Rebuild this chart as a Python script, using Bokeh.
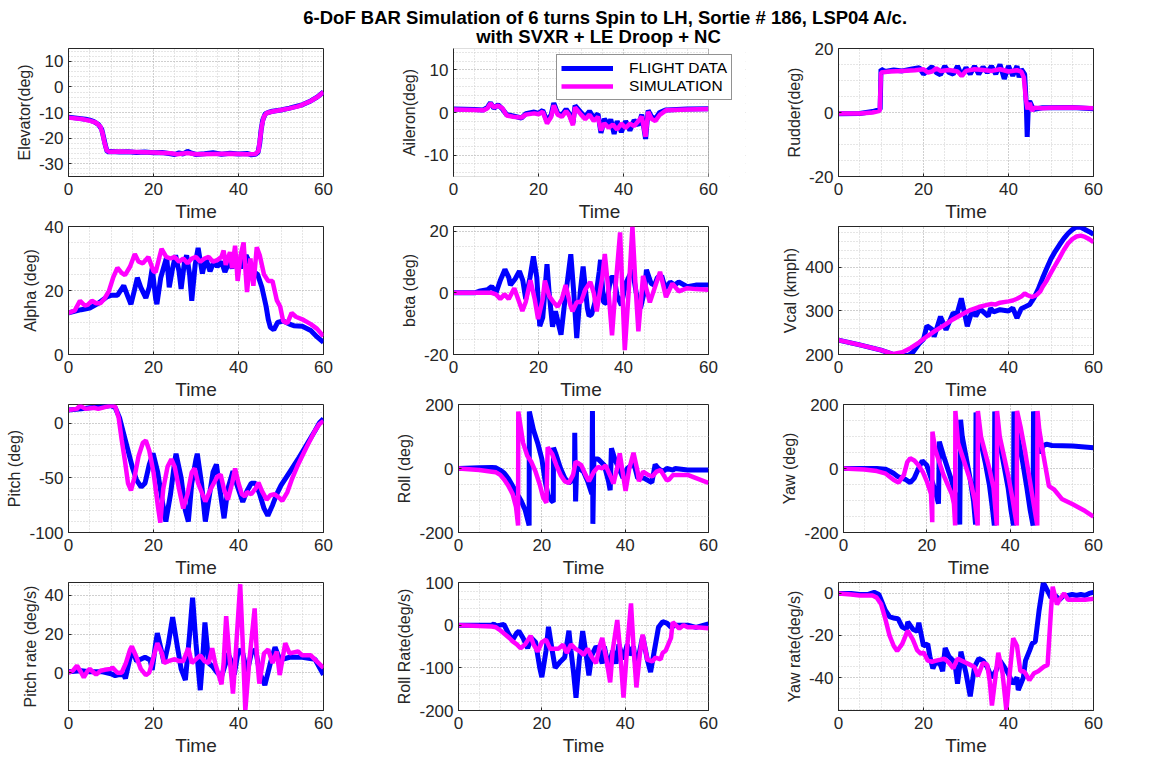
from bokeh.plotting import figure
from bokeh.layouts import column, row
from bokeh.models import (Range1d, SingleIntervalTicker, Legend, LegendItem, Label,
                          BoxAnnotation, PrintfTickFormatter)
from bokeh.embed import file_html
from bokeh.resources import INLINE

TITLE_1 = "6-DoF BAR Simulation of 6 turns Spin to LH, Sortie # 186, LSP04 A/c."
TITLE_2 = "with SVXR + LE Droop + NC"
SERIES_NAMES = ["FLIGHT DATA", "SIMULATION"]
X_LABEL = "Time"

# (time, value) pairs, flight data (blue) and simulation (magenta)
ELEV_FD = [(0,-11.8),(2,-12.2),(4,-12.6),(5,-13),(6,-13.6),(7,-14.6),(7.8,-16.5),(8.3,-20),(8.7,-23),(9.1,-25.3),(10,-25.2),(12,-25.4),(14,-25.3),(16,-25.6),(18,-25.4),(20,-25.7),(22,-25.6),(24,-26.1),(25,-26.4),(26,-25.8),(27,-26.2),(28,-25.2),(29,-25.9),(30,-26.4),(32,-26.1),(34,-25.7),(36,-26.3),(38,-25.9),(40,-26.2),(42,-26.0),(43,-26.5),(44,-26.3),(44.6,-25.5),(45.0,-22),(45.3,-17),(45.7,-13),(46.3,-10.5),(47,-10),(48,-9.5),(50,-9),(52,-8.3),(54,-7.4),(55,-7),(57,-5.5),(58.5,-4),(60,-2)]
ELEV_SIM = [(0,-12),(3,-12.5),(5,-13.2),(6.5,-14),(7.5,-15.5),(8,-18),(8.5,-22),(9,-24.8),(9.5,-25.3),(12,-25.2),(16,-25.4),(20,-25.6),(24,-25.9),(25.5,-26.3),(28,-25.8),(30,-26.3),(34,-26.2),(38,-26.1),(42,-26.3),(44,-26.2),(44.7,-25),(45.1,-20),(45.5,-15),(46,-11.5),(46.6,-10.2),(48,-9.6),(50,-9),(52,-8.4),(54,-7.6),(55,-7),(57,-5.5),(58.5,-4),(60,-2)]

AIL_FD = [(0,0.8),(5,0.7),(7,0.6),(8,1.2),(8.7,2.3),(9.5,1.0),(10.5,1.8),(11.5,0.8),(12.5,-0.5),(14,-0.8),(16,-1.3),(17,-0.3),(19,0.1),(20,-0.2),(21,0.5),(22,-2.0),(23,-0.5),(23.6,2.2),(24.5,-0.2),(25.5,-0.6),(26.5,0.8),(27.2,-0.2),(28.1,-2.5),(28.6,1.6),(30,0.0),(31,-1.0),(32,0.3),(33,-1.2),(34,-0.3),(34.7,-4.8),(35.5,-1.5),(36.5,-3.0),(37,-1.6),(37.8,-5.0),(38.5,-2.0),(39.5,-4.6),(40.5,-2.0),(41.5,-4.2),(42.5,-1.8),(43.5,-3.0),(44.3,-0.5),(45.2,-6.2),(45.8,0.5),(46.6,-1.0),(47.5,-1.5),(48.5,0.0),(50,0.6),(55,0.8),(60,0.9)]
AIL_SIM = [(0,0.7),(5,0.6),(7,0.5),(8,1.0),(8.7,2.1),(9.5,1.2),(10.5,1.6),(11.5,1.0),(12.5,-0.7),(14,-1.0),(16,-1.2),(17,-0.5),(19,-0.2),(20,-0.4),(21,0.2),(22,-2.6),(23,-1.0),(23.6,1.7),(24.5,-0.5),(25.5,-1.0),(26.5,0.3),(27.2,-0.6),(28.1,-3.0),(28.6,1.2),(30,-0.5),(31,-1.6),(32,-0.5),(33,-2.0),(34,-1.0),(34.7,-4.2),(35.5,-2.5),(36.5,-3.6),(37.5,-2.8),(38.5,-4.0),(39.5,-2.6),(40.5,-3.6),(41.5,-2.6),(42.5,-3.2),(43.5,-2.0),(44.3,-1.0),(45.2,-5.7),(45.8,0.2),(46.6,-1.5),(47.5,-2.0),(48.5,-0.6),(50,0.5),(55,0.7),(60,0.8)]

RUD_FD = [(0,-0.4),(5,-0.3),(8,0.3),(9.8,1.0),(10.0,13.5),(11,12.8),(13,13.3),(15,13.0),(17,13.5),(19,14.0),(20,12.0),(22,14.3),(23,12.5),(24,11.8),(25,14.5),(26,12.5),(27,12.0),(28,14.5),(29,11.5),(30,14.0),(31,12.0),(32,14.5),(33,12.0),(34,14.2),(35,12.5),(36,14.5),(37,12.0),(38,15.0),(39,10.5),(40,14.5),(41,11.5),(42,14.5),(42.5,11.0),(43,13.5),(43.8,12.0),(44.2,2.0),(44.4,-7.6),(44.7,3.0),(45.0,3.5),(45.5,2.0),(46,1.0),(48,1.5),(55,1.6),(60,1.2)]
RUD_SIM = [(0,-0.3),(5,-0.3),(8,0.0),(9.7,0.5),(10.0,12.5),(12,12.8),(15,13.0),(18,13.2),(20,13.5),(21,12.5),(22,12.8),(23,13.8),(24,13.0),(26,13.3),(28,12.8),(29,11.4),(30,13.0),(32,13.5),(34,13.3),(36,13.0),(38,13.5),(40,12.8),(42,13.2),(43,12.8),(43.6,11.0),(44.1,4.0),(44.5,1.0),(45,3.0),(45.5,0.5),(46,1.5),(48,1.3),(50,1.5),(55,1.6),(60,1.3)]

ALPHA_FD = [(0,13),(3,14),(5,14.5),(7,16),(9,18),(10,18.5),(11.5,18.5),(13,21.5),(14,18),(14.7,15.7),(15.5,20),(16.2,24),(17,21),(18.2,17.7),(19,21),(19.7,27),(20.5,17.5),(20.8,15.7),(21.7,24),(23.1,30.5),(23.7,21),(24.5,27),(25.2,31),(26,26),(26.5,20.5),(27.3,29),(27.8,31),(28.5,25),(29,16.8),(29.8,28),(30.5,33.3),(31.5,25.3),(32.3,30),(33.3,26),(34.2,29),(35,27.5),(36,29),(36.8,25.8),(37.8,29),(38.5,27),(39.5,30),(40.5,27),(41.8,31),(42.5,29),(43.5,26),(44.5,25),(45.5,21),(46.5,15),(47,11),(47.5,8.5),(48.3,7.7),(49.2,10),(50.5,10.5),(52,9.5),(53,9),(55,8.8),(57,7.5),(58.5,5.5),(60,3.8)]
ALPHA_SIM = [(0,13),(1.5,13.8),(2.7,16.8),(3.8,15.3),(4.5,15.5),(5.5,16.8),(6.5,16.0),(7.5,16.0),(8.5,17.5),(9.5,19.8),(10.5,24),(11.5,27.1),(12.5,25.5),(13.3,24.8),(14.5,27.5),(15.6,31.4),(16.5,29),(17.5,28.5),(18.8,30.5),(20,26),(20.5,25.7),(21.5,31),(21.9,33),(23,30.5),(24,30),(25,30.5),(26,29),(27,30),(28,28.5),(29,30),(30,30.5),(31,29),(32,30),(33,30.5),(34,29),(35,29.5),(36,30.5),(36.5,32.5),(37,28),(38,32),(38.5,27),(39.2,34),(39.8,23),(40.5,31),(41.2,35),(42,19.5),(42.8,30),(43.5,21.5),(44.3,33.5),(45,31),(46,25),(47,23),(48,23),(49,17),(49.8,15),(50.5,10.5),(51.5,9.8),(52.5,13),(53.5,11.8),(55,11),(57,9.5),(58.5,8),(60,5.7)]

BETA_FD = [(0,0),(5,0),(6,0.5),(8,1),(9,2.1),(10,0),(11,4),(12.1,7.6),(13,5),(13.4,2.5),(14.5,4.5),(15.5,7),(16.3,4),(17,-2),(18,5),(18.8,11.8),(19.6,5),(20.3,-10.8),(21,-8),(22,9.3),(22.5,0),(23.3,-11),(24,-6),(25.3,-13.6),(26,-5),(27.6,12.5),(28.3,0),(29,-14.7),(29.8,0),(30.5,8.5),(31.5,-5),(31.9,-7.5),(32.5,-7),(33.3,-3),(34.3,7),(34.6,10.7),(35.3,-3),(36,-3.5),(37,5),(37.8,5),(38.5,-1),(39.5,-4),(40.5,3),(42.1,7.5),(43,0),(44,-5),(45,1),(45.4,7.5),(46.5,3),(47.3,2.5),(48,5),(49,5.5),(49.8,1.5),(51,3.5),(52,2.5),(53,3.5),(55,2),(57,2.5),(60,2.5)]
BETA_SIM = [(0,0),(9,0),(10,-0.5),(11,-2),(12,-0.5),(13,-2),(14.3,1.5),(16.2,-5.9),(17,-3),(18.1,4.1),(19.1,-2),(19.9,-8.5),(21,-2),(21.5,4),(22.5,-1),(23.5,-3),(24.5,-4.5),(25.5,-2),(26.4,2.5),(27.5,-4),(28,-6),(29,-3),(30,-3),(31,1),(32.2,3.5),(33,0),(33.7,-6),(35,5),(35.6,12.6),(36.5,0),(37.3,-13.8),(38.2,3),(39.2,19.6),(39.75,0),(40.3,-18.6),(41.2,0),(42.1,21.5),(42.8,3),(43.5,-12.5),(44.6,5.5),(46.2,-3.1),(48.6,6.8),(50,-1.4),(51.5,3),(53,0.5),(55,1.5),(57,1.2),(60,1)]

VCAL_FD = [(0,233),(5,222),(10,210),(13,200),(15,199),(16.5,198),(17.5,205),(19,225),(20,235),(20.8,266),(22,258),(22.5,241),(24,287),(25.3,257),(27,296),(27.8,290),(28.9,329),(30.3,265),(31.5,303),(32.3,288),(33.3,305),(35.2,288),(35.8,306),(36.5,298),(38,303),(40,300),(41,307),(42,284),(43,305),(44,310),(45,315),(46,330),(47,350),(48,375),(49,398),(50,420),(51,437),(52,452),(53,466),(54,478),(55,487),(56,493),(57,492),(58,487),(59,482),(60,476)]
VCAL_SIM = [(0,233),(5,222),(10,210),(12.9,201),(15,205),(17,215),(19,228),(21,243),(23,256),(25,268),(27,281),(29,292),(31,302),(33,309),(35,314),(36,316),(37,315),(38,319),(40,322),(41,324),(42,328),(43,333),(43.8,340),(44.5,336),(45.5,332),(46.5,336),(47.5,345),(48,355),(49,370),(50,388),(51,405),(52,422),(53,440),(54,455),(55,465),(56,471),(57,473),(58,470),(59,465),(60,458)]

PITCH_FD = [(0,12),(3,13),(5,14),(8,15),(10,16),(11,14),(12,5),(13,-10),(14,-25),(15,-40),(16,-52),(17.1,-58.5),(18,-55),(19,-38),(19.9,-27.7),(21,-45),(22,-70),(22.9,-90),(24,-65),(25,-35),(25.3,-28),(26.5,-50),(27.5,-80),(28.2,-90),(29,-55),(30,-33),(30.3,-28),(31.3,-55),(32.2,-90),(33,-70),(34,-45),(34.8,-37.8),(35.6,-60),(36.6,-87),(37.5,-60),(38.7,-44),(39.5,-55),(41,-72),(42,-62),(43,-55),(44,-55),(45,-65),(46,-78),(46.9,-84.6),(48,-75),(49,-65),(50,-57),(52,-45),(54,-33),(56,-20),(58,-7),(59,0),(60,4)]
PITCH_SIM = [(0,12),(2,13),(2.7,16),(4,13),(6,14),(7,13),(9,15),(10,16),(11,15),(11.8,5),(12.5,-15),(13.3,-35),(14,-55),(14.7,-61.5),(15.5,-50),(16.5,-30),(17.5,-18),(18.2,-16),(19,-25),(20,-45),(21,-75),(21.6,-91),(22.3,-60),(23.3,-40),(24.2,-33),(25,-40),(26,-60),(27,-78),(28,-65),(29,-45),(29.7,-41.5),(30.5,-55),(32.2,-71.7),(33.5,-60),(35,-49),(35.8,-47),(36.7,-62),(37.5,-70),(38.5,-55),(39.2,-41.5),(40,-55),(40.8,-65),(41.5,-67),(42,-63),(43,-65),(44,-60),(44.7,-54.5),(45.5,-62),(46.6,-70),(47.5,-66),(48.5,-65),(49.5,-68),(50.3,-71),(51.5,-63),(52.5,-52),(54,-38),(56,-22),(58,-7),(59,-1),(60,2)]

ROLL_FD = [(0,0),(5,2),(8,3),(9,2),(10,-5),(11,-15),(12,-32),(13,-55),(14,-78),(15,-100),(16,-130),(16.95,-178),(17.0,178),(18,120),(19,80),(20,30),(20.8,-40),(21.5,-84),(22.3,-100),(22.75,-105),(22.8,65),(23.5,40),(24.5,0),(25.5,-30),(26.5,-45),(27.5,-35),(27.85,-20),(27.9,112),(28.1,-103),(28.4,20),(29,0),(30,-10),(31,-40),(32,-80),(32.15,180),(32.25,-173),(32.5,30),(33.5,30),(35,10),(36,-40),(36.4,-68),(36.7,63),(37.5,30),(38.5,0),(39.5,-30),(40.5,0),(41.5,10),(42,20),(43,-30),(44.5,-30),(46.4,-44),(47.2,12.6),(48,0),(49,-10),(50,0),(51.5,-5),(52,0),(55,-5),(60,-5)]
ROLL_SIM = [(0,0),(5,-5),(8,-10),(9,-12),(10,-20),(11,-35),(12,-55),(13,-80),(13.8,-120),(14.3,-178),(14.35,178),(15.5,80),(16.5,40),(17.5,20),(18.5,-10),(19.5,-50),(20.3,-90),(21.1,-107),(21.4,66),(22.5,45),(23.5,10),(24.5,-20),(25.5,-40),(26.5,-45),(27.5,-20),(28.1,21),(29.5,10),(30.5,-20),(31.3,-40),(32.5,-10),(33.5,5),(34.5,0),(35.3,10),(36.5,-25),(37.2,-47),(38.3,15),(38.7,47),(39.5,-20),(40.1,-70),(41,0),(42,49),(43,-10),(43.3,-40),(44.3,-10),(45.5,-20),(46.5,-25),(47.5,-10),(48.5,-5),(50,-37),(50.5,-35),(51.5,-20),(52.5,-20),(55,-20),(57,-30),(60,-45)]

YAW_FD = [(0,0),(5,0),(8,0),(10,-2),(11,-8),(12,-15),(13,-25),(14,-30),(15,-35),(16,-44),(17,-30),(18,0),(18.9,24),(20,10),(21,-30),(22,-70),(22.8,-110),(23.0,84),(24,40),(25,0),(26,-40),(27,-90),(27.5,-130),(27.9,-175),(28.1,152),(28.5,100),(29.5,30),(30.5,-40),(31.2,-100),(31.7,-175),(31.8,175),(33,80),(34,20),(35,-50),(35.7,-120),(36.2,-178),(36.3,178),(37.5,80),(38.5,10),(39.5,-60),(40.2,-130),(40.8,-178),(40.9,178),(42,90),(43,20),(44,-60),(44.8,-130),(45.5,-178),(45.6,178),(46.5,130),(47.3,47),(47.8,70),(48.7,76),(50,72),(55,70),(60,65)]
YAW_SIM = [(0,0),(5,-3),(8,-8),(10,-15),(11,-25),(12,-35),(13.2,-44),(14.5,-20),(15.3,20),(16,32),(17,25),(18,10),(19,-10),(20,-40),(21,-79),(21.3,-168),(21.35,115),(22,60),(23,20),(24,-20),(25,-50),(26,-80),(26.5,-110),(26.8,-178),(26.85,180),(27.5,80),(28.5,40),(29.5,0),(30.5,-40),(31.5,-100),(32.2,-178),(32.25,180),(33,100),(34,50),(35,0),(36,-60),(36.8,-178),(36.85,180),(37.5,100),(38.5,40),(39.5,-20),(40.5,-90),(41.6,-178),(41.65,180),(42.5,130),(43.5,60),(44.5,-20),(45.5,-100),(46.5,-178),(46.55,180),(47,120),(48,40),(49.3,-55),(50.5,-65),(52.4,-95),(55,-112),(58,-133),(60,-150)]

PRATE_FD = [(0,0.5),(3,1),(5,0.5),(8,0.5),(10,-0.5),(11,-1.5),(12,-1),(13,-1),(13.4,-3),(14.5,8),(15,12),(16,6),(17,7),(18,8),(19.2,6.6),(19.7,1.4),(20.5,15),(20.9,20.5),(22,10),(22.5,5),(23.5,15),(24.5,28.7),(25.5,15),(26.5,2),(27.5,-3.8),(28.5,20),(29.2,38.8),(30,15),(31,-9),(31.5,5),(32.1,26),(33,5),(34,3),(35,0),(36,-2),(37,5),(37.5,10),(38.5,5),(39,-1),(40,12),(41,10),(42,0),(43,10),(44,12),(45,0),(46.2,-6.4),(47.5,5),(48.6,13.2),(49.5,8),(50.5,7),(52,8),(55,8),(58,7),(60,-1)]
PRATE_SIM = [(0,0),(1,1),(2,3.7),(3,0),(3.6,-2.4),(4.5,1),(5,2),(6,0),(6.5,-1),(7.5,1),(8.5,1.5),(10,2),(10.3,2.8),(11.5,0),(12.5,0),(13.5,5),(14.5,12),(14.9,13.6),(16,8),(17,2),(18.2,-1.2),(19,0),(20,8),(20.9,15.3),(22,10),(22.5,5),(23.5,6),(25,7),(26,6),(27,6),(28.2,12.7),(29,5),(30,7),(31,9),(32,6),(33,5),(33.8,12.7),(34.5,5),(36,-6),(36.5,5),(37.1,29.2),(37.8,10),(38.7,-10.8),(39.2,5),(40.4,45.7),(41,15),(41.6,-19.5),(42.5,5),(43.8,33.2),(44.3,10),(44.9,-5.6),(46,10),(47,12),(48,5),(49,11),(49.7,-1.2),(51,15.3),(52,10),(54,11),(55,9),(57,9),(60,2.5)]

RRATE_FD = [(0,0),(5,0),(8,0),(8.5,3),(9,-2),(10,0),(10.9,2),(12,-20),(13,-35),(14,-18),(14.5,-14),(15.5,-30),(16.6,-54),(17.5,-30),(18.5,-40),(19.5,-100),(20,-122),(21,-60),(21.6,-4),(22.5,-60),(23.2,-100),(24.5,-85),(25.5,-75),(26.5,-13),(27,-60),(27.6,-110),(28.2,-170),(29,-80),(29.8,-14),(30.5,-60),(31.3,-118),(32,-70),(33,-50),(33.5,-55),(34.5,-90),(35,-50),(36,-100),(37,-60),(37.8,-90),(38.5,-45),(39.5,-80),(40.5,-45),(41,-70),(42,-50),(42.7,-106),(43.5,-60),(44.2,-26),(45.3,-80),(46.1,-110),(47,-60),(48,-5),(49,8),(50,5),(51,-5),(52,0),(53,0),(55,0),(57,-5),(60,3)]
RRATE_SIM = [(0,0),(5,-2),(8,-3),(9,-5),(10,-12),(11,-20),(12.2,-30),(13,-38),(14,-45),(14.9,-54),(16,-45),(17.3,-25),(18,-45),(19,-62),(20,-40),(21,-34),(22,-55),(23,-55),(24,-55),(25.1,-46),(26,-65),(27,-45),(28,-55),(29.2,-62),(30,-70),(31,-55),(32,-75),(33,-89),(34,-45),(34.5,-30),(35.5,-80),(36.4,-134),(37,-60),(38.1,12),(38.7,-50),(39.6,-170),(40.5,-50),(41.4,51),(42,-50),(42.7,-146),(43.5,-70),(44.2,-22),(45.3,-81),(46.5,-85),(47.3,-76),(48.5,-80),(49,-65),(49.7,-60),(51,-30),(51.4,7),(53,-8),(54,0),(55,-5),(57,-5),(60,-7)]

YRATE_FD = [(0,0),(3,0),(5,-0.5),(7,-0.5),(8.4,0.5),(9.5,-0.5),(10,-3),(11,-8),(12,-11),(12.9,-11.7),(14,-12),(15,-16),(16,-17),(16.3,-13.6),(17.5,-17),(18.5,-18),(18.9,-14),(20,-25),(21,-24),(21.5,-30),(22.2,-35.7),(23,-32),(24,-34),(24.5,-37),(25.1,-26),(26,-30),(27,-32),(27.5,-35),(28,-42.9),(28.5,-35),(28.8,-27.7),(30,-38),(31,-49),(32,-35),(33,-31),(34,-32),(35,-35),(36,-40),(37,-37),(38,-32),(39,-35),(39.9,-38),(41,-43),(42,-40),(42.3,-46),(43.5,-40),(44,-32),(45,-27),(45.6,-23.7),(46.3,-23),(47.2,-8),(48.2,5.1),(49.5,0),(50,-2),(51,-1),(52,-3),(53,-1),(54,-1),(55,-0.5),(56,-1),(57,-0.5),(58,-1),(59,0),(60,0.5)]
YRATE_SIM = [(0,0),(3,-0.5),(5,-1),(8,-1),(9,-2),(10,-5),(11,-12),(12,-20),(13,-25),(13.8,-27.4),(15,-24),(16,-19),(16.3,-17.8),(17.5,-22),(18.5,-27),(19.4,-28.8),(20,-28),(21,-32),(22,-32.5),(23,-32),(24,-31.5),(24.9,-31),(26,-33),(27,-35.7),(28,-31),(29,-32),(30,-33),(31,-34),(32,-35),(32.8,-39.4),(34,-33),(35,-34),(35.6,-42),(36.1,-53.3),(36.8,-42),(37.6,-28.2),(38.6,-38),(39.5,-55.7),(40.2,-40),(41.1,-21.3),(42,-25),(42.8,-37),(43.5,-37),(44,-38),(44.9,-41.3),(46,-38),(47,-37),(48.3,-34.9),(49.2,-34),(50,-8),(50.4,3.2),(51.4,-5.3),(52,-3),(53.1,0),(54,-3),(56,-3),(58,-3),(60,-2.5)]

# panel: y label, flight data, simulation, y limits, major tick step, minor subdivisions
PANELS = [
    ("Elevator(deg)", ELEV_FD, ELEV_SIM, (-35, 15), 10, 5),
    ("Aileron(deg)", AIL_FD, AIL_SIM, (-15, 15), 10, 5),
    ("Rudder(deg)", RUD_FD, RUD_SIM, (-20, 20), 20, 4),
    ("Alpha (deg)", ALPHA_FD, ALPHA_SIM, (0, 40), 20, 4),
    ("beta (deg)", BETA_FD, BETA_SIM, (-20, 21.5), 20, 4),
    ("Vcal (kmph)", VCAL_FD, VCAL_SIM, (200, 494), 100, 5),
    ("Pitch (deg)", PITCH_FD, PITCH_SIM, (-100, 17), 50, 5),
    ("Roll (deg)", ROLL_FD, ROLL_SIM, (-200, 200), 200, 4),
    ("Yaw (deg)", YAW_FD, YAW_SIM, (-200, 200), 200, 4),
    ("Pitch rate (deg/s)", PRATE_FD, PRATE_SIM, (-19.5, 46.6), 20, 4),
    ("Roll Rate(deg/s)", RRATE_FD, RRATE_SIM, (-200, 100), 100, 5),
    ("Yaw rate(deg/s)", YRATE_FD, YRATE_SIM, (-55.7, 5.2), 20, 4),
]
X_LIMITS = (0, 60)
LEGEND_PANEL = 1

FONT = "Liberation Sans"
INK = "#262626"
BLUE = "#0000ff"
MAGENTA = "#ff00ff"

FIG_W = [393, 385, 340]
LEFT_B = [68, 60, 60]
FRAME_W = 255
FRAME_H = 128
TOP_B = 14
BOT_B = [50, 50, 50, 48]
ROW_OVERLAP = [14, 14, 14, 14]   # rows overlap slightly (transparent borders)
TITLE_H = 48
LEGEND_ROOM = 37   # extra frame width so the legend can stick out past the axes box


def unzip(pairs):
    return [a for a, _ in pairs], [b for _, b in pairs]


def make_panel(i, ylabel, fd, sim, ylim, step, nminor):
    c, r = i % 3, i // 3
    has_legend = (i == LEGEND_PANEL)
    fw = FRAME_W + (LEGEND_ROOM if has_legend else 0)
    x_end = X_LIMITS[1] * fw / FRAME_W
    p = figure(width=FIG_W[c], height=TOP_B + FRAME_H + BOT_B[r],
               x_range=Range1d(X_LIMITS[0], x_end), y_range=Range1d(*ylim),
               toolbar_location=None, output_backend="svg",
               min_border_left=LEFT_B[c], min_border_right=FIG_W[c] - LEFT_B[c] - fw,
               min_border_top=TOP_B, min_border_bottom=BOT_B[r],
               background_fill_color="white", border_fill_alpha=0,
               outline_line_color=None if has_legend else INK, outline_line_width=1)
    xt = SingleIntervalTicker(interval=20, num_minor_ticks=4)
    yt = SingleIntervalTicker(interval=step, num_minor_ticks=nminor)
    p.xaxis.ticker = xt
    p.yaxis.ticker = yt
    p.xgrid.ticker = xt
    p.ygrid.ticker = yt
    for g in (p.xgrid, p.ygrid):
        g.grid_line_color = "#b8b8b8"
        g.grid_line_dash = "1 2"
        g.minor_grid_line_color = "#cccccc"
        g.minor_grid_line_dash = "1 2"
    for ax in (p.xaxis, p.yaxis):
        ax.formatter = PrintfTickFormatter(format="%d")
        ax.axis_line_color = INK
        ax.major_tick_line_color = INK
        ax.major_tick_in = 3
        ax.major_tick_out = 0
        ax.minor_tick_in = 0
        ax.minor_tick_out = 0
        ax.major_label_text_font = FONT
        ax.major_label_text_font_size = "17px"
        ax.major_label_text_line_height = 1.0
        ax.major_label_text_color = INK
        ax.axis_label_text_font = FONT
        ax.axis_label_text_font_style = "normal"
        ax.axis_label_text_line_height = 1.0
        ax.axis_label_text_color = INK
    p.xaxis.axis_label = X_LABEL
    p.xaxis.axis_label_text_font_size = "19px"
    p.xaxis.major_label_standoff = 6
    p.xaxis.axis_label_standoff = 3
    p.yaxis.axis_label = ylabel
    p.yaxis.axis_label_text_font_size = "16px"
    p.yaxis.major_label_standoff = 5
    p.yaxis.axis_label_standoff = 3

    ft, fv = unzip(fd)
    st, sv = unzip(sim)
    r1 = p.line(ft, fv, line_color=BLUE, line_width=5)
    r2 = p.line(st, sv, line_color=MAGENTA, line_width=4.5)
    if has_legend:
        p.xaxis.axis_line_color = None
        # blank the extra room to the right of the axes box, then redraw the box
        p.add_layout(BoxAnnotation(left=X_LIMITS[1], fill_color="white", fill_alpha=1,
                                   line_alpha=0, level="annotation"))
        p.add_layout(BoxAnnotation(left=X_LIMITS[0], right=X_LIMITS[1],
                                   bottom=ylim[0], top=ylim[1], fill_alpha=0,
                                   line_color=INK, line_width=1, level="annotation"))
        leg = Legend(items=[LegendItem(label=SERIES_NAMES[0], renderers=[r1]),
                            LegendItem(label=SERIES_NAMES[1], renderers=[r2])],
                     location=(103, 76), orientation="vertical",
                     label_text_font=FONT, label_text_font_size="15.5px",
                     label_text_line_height=1.0,
                     label_text_color="#000000",
                     glyph_width=52, glyph_height=14, label_height=14,
                     label_standoff=16, spacing=0, padding=4, margin=0,
                     border_line_color=INK, border_line_width=1,
                     background_fill_color="white", background_fill_alpha=1)
        p.add_layout(leg, "center")
    return p


panels = [make_panel(i, *cfg) for i, cfg in enumerate(PANELS)]

title_fig = figure(width=1118, height=TITLE_H, x_range=Range1d(0, 1), y_range=Range1d(0, 1),
                   toolbar_location=None, output_backend="svg",
                   x_axis_type=None, y_axis_type=None, min_border=0,
                   outline_line_color=None, background_fill_color="white",
                   border_fill_alpha=0)
title_fig.grid.visible = False
for txt, xpos, ypos in ((TITLE_1, 605, 31), (TITLE_2, 598, 12)):
    title_fig.add_layout(Label(x=xpos, y=ypos, x_units="screen", y_units="screen",
                               text=txt, text_align="center", text_baseline="middle",
                               text_font=FONT, text_font_size="18.5px",
                               text_font_style="bold", text_color="#000000"))

rows = [row(*panels[3 * k:3 * k + 3], styles={"margin-top": f"-{ROW_OVERLAP[k]}px"})
        for k in range(4)]
layout = column(title_fig, *rows)

open("out.html", "w").write(file_html(layout, INLINE))
